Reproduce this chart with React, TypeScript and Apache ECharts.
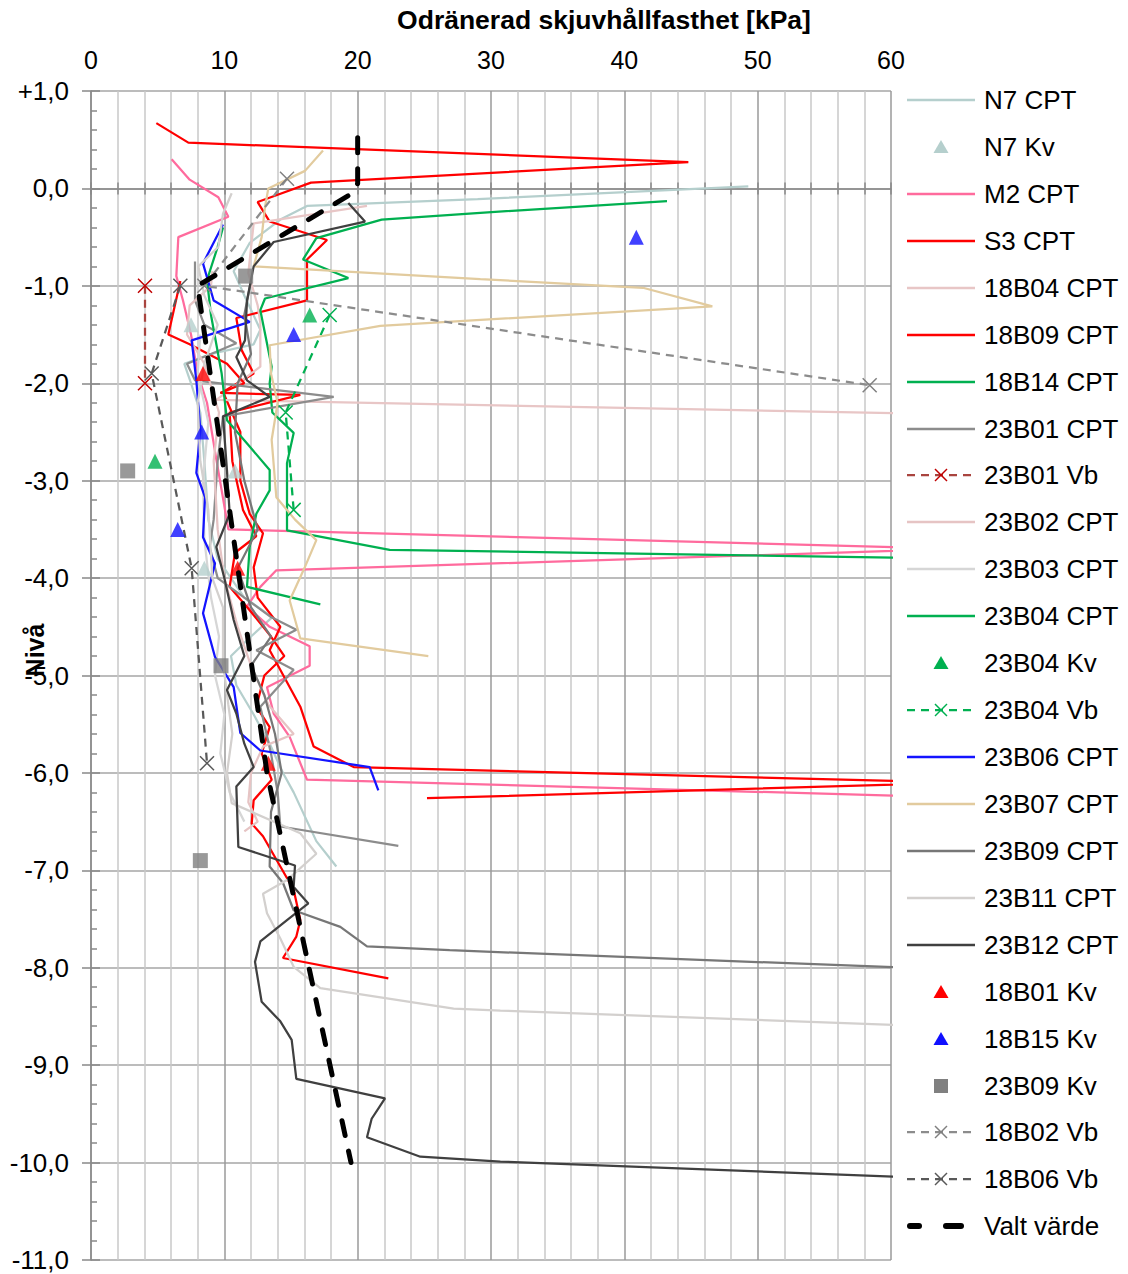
import React, { useEffect, useRef } from 'react';
import * as echarts from 'echarts';

const FONT = 'Liberation Sans, Arial, sans-serif';

const N7_CPT = [[49.3,0.02],[29,-0.11],[16.2,-0.18],[14.2,-0.32],[11.9,-0.56],[10.7,-0.85],[11.5,-1.1],[12.7,-1.45],[12.2,-1.6],[9,-1.7],[7,-1.8],[7.5,-2.0],[8.2,-2.3],[8.5,-2.8],[8.8,-3.4],[9.5,-3.8],[11.5,-4.2],[13.6,-4.4],[12,-4.6],[10.5,-4.8],[10.9,-5.1],[12.2,-5.4],[13.4,-5.7],[14.4,-6.0],[15.2,-6.2],[16.9,-6.7],[18.4,-6.96]];
const N7_KV = [[7.5,-1.4],[10.8,-2.9],[8.5,-3.9]];
const M2_CPT = [[6.05,0.3],[7.4,0.09],[9.55,-0.09],[10.3,-0.29],[6.55,-0.5],[6.4,-0.9],[6.9,-1.15],[7.5,-1.5],[8,-1.9],[8.7,-2.2],[9.3,-2.7],[9.8,-3.1],[10.3,-3.5],[65,-3.7],[13.9,-3.92],[12.7,-4.09],[11.7,-4.29],[13.4,-4.5],[16.4,-4.7],[16.4,-4.9],[13.2,-5.12],[13.7,-5.39],[14.9,-5.63],[16.2,-6.07],[65,-6.25]];
const S3_CPT = [[4.9,0.67],[7.3,0.47],[44.8,0.27],[16.5,0.06],[13.9,-0.07],[12.5,-0.14],[13.4,-0.34],[17.7,-0.53],[16.2,-0.73],[16.2,-1.15],[10.9,-1.33],[11.3,-1.66],[12.2,-1.9],[9.9,-2.09],[11.2,-2.5],[11.2,-3.0],[11.9,-3.34],[12.9,-3.54],[12.2,-3.89],[12.5,-4.2],[14.2,-4.5],[13.4,-4.74],[15.7,-5.32],[16.7,-5.73],[19.7,-5.94],[65,-6.1],[25.2,-6.26]];
const B18_04_CPT = [[20.7,-0.18],[12.2,-0.36],[11.8,-0.87],[12.5,-1.2],[12.7,-1.38],[12.7,-1.83],[9.4,-2.17],[65,-2.32]];
const B18_09_CPT = [[6.7,-0.95],[5.8,-1.5],[7.4,-1.6],[10.2,-1.8],[11.5,-2.0],[9.7,-2.1],[15.7,-2.12],[10.4,-2.3],[10.6,-2.8],[11.4,-3.3],[12.4,-3.57],[10.8,-3.74],[10.4,-4.09],[11.9,-4.33],[13.5,-4.6],[14.5,-4.8],[13,-5.0],[12.4,-5.32],[13.4,-5.53],[12.8,-5.8],[13.55,-6.07],[12.2,-6.28],[12.05,-6.52],[12.9,-6.65],[14.2,-6.96],[15.2,-7.2],[15.7,-7.51],[15.4,-7.68],[14.4,-7.9],[22.3,-8.11]];
const B18_14_CPT = [[43.2,-0.13],[29.2,-0.25],[21.8,-0.32],[16.9,-0.51],[15.9,-0.73],[19.3,-0.92],[13.05,-1.13],[12.7,-1.25],[13.55,-1.83],[13.4,-2.0],[13.6,-2.3],[15.2,-2.51],[14.7,-2.82],[14.7,-3.51],[22.4,-3.71],[65,-3.8]];
const B23_01_CPT = [[7.8,-0.75],[7.8,-1.15],[8.5,-1.4],[10.9,-1.59],[9.0,-1.7],[7.2,-1.8],[7.8,-1.97],[18.2,-2.14],[9.9,-2.34],[9.5,-2.8],[9.2,-3.4],[8.9,-3.68],[9.5,-4.0],[11.5,-4.2],[13.5,-4.4],[15.4,-4.53],[12.4,-4.74],[15.2,-4.94],[12.7,-5.32],[13.5,-5.8],[14.0,-6.2],[14.2,-6.55],[23.05,-6.75]];
const B23_01_VB = [[4.05,-1.0],[4.05,-2.0]];
const B23_02_CPT = [[9.1,-0.85],[9.0,-1.0],[7.4,-1.2],[7.2,-1.5],[8.5,-1.8],[9.6,-2.3],[9.2,-2.8],[9.5,-3.5],[10.0,-4.0],[11.0,-4.5],[12.0,-4.9],[13.3,-5.3],[15.2,-5.6],[12.9,-5.73],[12.0,-6.0],[11.8,-6.3],[12.5,-6.5],[11.5,-6.6]];
const B23_03_CPT = [[8.2,-1.5],[8.0,-1.9],[8.8,-2.4],[8.4,-3.0],[8.5,-3.6],[9.0,-4.2],[9.6,-4.6],[9.3,-5.0],[10.0,-5.4],[9.7,-5.8],[10.4,-6.2],[11.5,-6.5]];
const B23_04_CPT = [[9.9,-0.4],[9.5,-0.6],[8.7,-0.94],[9.0,-1.3],[9.8,-1.9],[10.2,-2.38],[11.9,-2.65],[13.4,-2.89],[13.4,-3.1],[12.4,-3.34],[11.9,-3.68],[11.7,-4.09],[17.2,-4.27]];
const B23_04_KV = [[16.4,-1.3],[4.8,-2.8]];
const B23_04_VB = [[17.9,-1.3],[14.6,-2.3],[15.2,-3.3]];
const B23_06_CPT = [[9.9,-0.37],[8.4,-0.77],[9.2,-1.15],[11.9,-1.37],[7.55,-1.56],[7.9,-1.97],[8.2,-2.48],[7.9,-2.92],[8.55,-3.17],[8.4,-3.58],[9.3,-3.85],[8.4,-4.36],[9.3,-4.81],[10.7,-5.12],[11.2,-5.59],[12.7,-5.77],[20.9,-5.94],[21.55,-6.18]];
const B23_07_CPT = [[17.4,0.39],[16.05,0.18],[13.3,0.0],[13.05,-0.19],[12.8,-0.5],[12.2,-0.8],[29.2,-0.93],[41.4,-1.02],[46.6,-1.21],[21.7,-1.41],[13.4,-1.61],[13.5,-1.9],[14.0,-2.2],[13.55,-2.58],[13.9,-3.17],[15.3,-3.4],[16.9,-3.61],[16.0,-3.9],[14.9,-4.23],[15.7,-4.62],[25.3,-4.8]];
const B23_09_CPT = [[12.0,-0.95],[11.5,-1.3],[12.0,-1.7],[11.0,-2.0],[10.8,-2.5],[11.5,-3.0],[12.5,-3.5],[11.0,-3.9],[12.0,-4.3],[13.5,-4.6],[12.0,-4.9],[13.0,-5.2],[13.8,-5.6],[14.3,-6.0],[13.5,-6.4],[13.4,-6.96],[14.4,-7.13],[15.2,-7.41],[18.7,-7.58],[20.7,-7.78],[26.9,-7.82],[65,-8.02]];
const B23_11_CPT = [[10.55,-0.05],[9.9,-0.26],[9.55,-0.6],[8.05,-0.8],[8.5,-1.1],[9.5,-1.4],[8.5,-1.8],[8.0,-2.2],[8.2,-2.8],[8.8,-3.3],[9.1,-4.0],[9.9,-4.3],[9.9,-4.87],[10.3,-5.3],[10.6,-5.6],[10.2,-6.0],[10.55,-6.31],[15.7,-6.62],[16.9,-6.83],[14.7,-7.1],[12.9,-7.24],[13.2,-7.44],[14.2,-7.7],[15.2,-7.99],[17.2,-8.21],[27.2,-8.42],[30.7,-8.44],[65,-8.61]];
const B23_12_CPT = [[19.3,-0.15],[20.55,-0.34],[13.7,-0.55],[12.2,-0.8],[11.7,-1.15],[11.55,-1.56],[10.9,-1.73],[11.7,-1.97],[13.4,-2.14],[9.9,-2.34],[10.2,-2.9],[10.4,-3.34],[9.4,-3.68],[10.0,-4.0],[10.7,-4.43],[11.5,-4.8],[10.2,-5.15],[10.9,-5.39],[11.5,-5.7],[12.2,-5.94],[10.9,-6.14],[11.05,-6.76],[15.3,-6.95],[15.2,-7.17],[16.3,-7.34],[14.7,-7.51],[12.7,-7.73],[12.3,-7.94],[12.8,-8.35],[14.2,-8.55],[15.05,-8.74],[15.4,-9.14],[22.05,-9.34],[21.05,-9.55],[20.7,-9.74],[24.7,-9.94],[30.7,-9.99],[65,-10.17]];
const B18_01_KV = [[8.4,-1.9],[11.0,-3.9],[13.3,-5.9]];
const B18_15_KV = [[40.9,-0.5],[15.2,-1.5],[8.3,-2.5],[6.5,-3.5]];
const B23_09_KV = [[11.6,-0.9],[2.75,-2.9],[9.75,-4.9],[8.2,-6.9]];
const B18_02_VB = [[14.7,0.1],[8.5,-1.0],[58.4,-2.02]];
const B18_06_VB = [[6.7,-1.0],[4.55,-1.9],[7.55,-3.9],[8.7,-5.9]];
const VALT = [[20,0.52],[20,0.05],[19.6,-0.05],[8,-1.0],[13.2,-6.0],[19.5,-10.0]];

const X_TICKS_MAJOR = [0, 10, 20, 30, 40, 50, 60];

const CROSS = 'path://M0 0L10 10M10 0L0 10';
const LW = 2.25;

type Kind = 'line' | 'tri' | 'rect' | 'vb' | 'valt';
interface Entry { name: string; kind: Kind; color: string; mark?: string; series: any }

function cpt(name: string, data: number[][], color: string): Entry {
  return { name, kind: 'line', color, series: { name, type: 'line', data, symbol: 'none', showSymbol: false, lineStyle: { color, width: LW }, itemStyle: { color }, clip: true } };
}
function kv(name: string, data: number[][], color: string, symbol = 'triangle'): Entry {
  return { name, kind: symbol === 'rect' ? 'rect' : 'tri', color, series: { name, type: 'scatter', data, symbol, symbolSize: 15, itemStyle: { color }, z: 4 } };
}
function vb(name: string, data: number[][], color: string, mark: string): Entry {
  return {
    name, kind: 'vb', color, mark,
    series: {
      name, type: 'line', data, symbol: CROSS, symbolSize: 14, showSymbol: true,
      lineStyle: { color, width: 2.25, type: [8, 6] },
      itemStyle: { color: mark, borderColor: mark, borderWidth: 1.5 }, clip: true,
    },
  };
}

const fmtY = (v: number) => {
  const s = Math.abs(v) < 1e-9 ? '0,0' : v.toFixed(1).replace('.', ',');
  return v > 0.0001 ? '+' + s : s;
};

function legendGraphics(entries: Entry[]) {
  const out: any[] = [];
  const x0 = 907, x1 = 975, cx = 941;
  entries.forEach((e, i) => {
    const y = Math.round(100 + i * 46.93);
    if (e.kind === 'line') {
      out.push({ type: 'line', shape: { x1: x0, y1: y, x2: x1, y2: y }, style: { stroke: e.color, lineWidth: 2.5 } });
    } else if (e.kind === 'tri') {
      out.push({ type: 'polygon', shape: { points: [[cx, y - 7], [cx + 7.5, y + 6], [cx - 7.5, y + 6]] }, style: { fill: e.color } });
    } else if (e.kind === 'rect') {
      out.push({ type: 'rect', shape: { x: cx - 7, y: y - 7, width: 14, height: 14 }, style: { fill: e.color } });
    } else if (e.kind === 'vb') {
      out.push({ type: 'line', shape: { x1: x0, y1: y, x2: x1, y2: y }, style: { stroke: e.color, lineWidth: 2.25, lineDash: [8, 6] } });
      out.push({ type: 'line', shape: { x1: cx - 6, y1: y - 6, x2: cx + 6, y2: y + 6 }, style: { stroke: e.mark, lineWidth: 1.5 } });
      out.push({ type: 'line', shape: { x1: cx + 6, y1: y - 6, x2: cx - 6, y2: y + 6 }, style: { stroke: e.mark, lineWidth: 1.5 } });
    } else {
      out.push({ type: 'line', shape: { x1: 910, y1: y, x2: 919, y2: y }, style: { stroke: '#000', lineWidth: 6, lineCap: 'round' } });
      out.push({ type: 'line', shape: { x1: 946, y1: y, x2: 961, y2: y }, style: { stroke: '#000', lineWidth: 6, lineCap: 'round' } });
    }
    out.push({ type: 'text', x: 984, y, style: { text: e.name, font: `26px ${FONT}`, fill: '#000', align: 'left', verticalAlign: 'middle' } });
  });
  return out;
}

export default function App() {
  const ref = useRef<HTMLDivElement>(null);
  useEffect(() => {
    const chart = echarts.init(ref.current!, null, { renderer: 'svg' });
    const entries: Entry[] = [
      cpt('N7 CPT', N7_CPT, '#b5cfcd'),
      kv('N7 Kv', N7_KV, '#b5cfcd'),
      cpt('M2 CPT', M2_CPT, '#ff6b9d'),
      cpt('S3 CPT', S3_CPT, '#ff0000'),
      cpt('18B04 CPT', B18_04_CPT, '#e8c6c6'),
      cpt('18B09 CPT', B18_09_CPT, '#ff0000'),
      cpt('18B14 CPT', B18_14_CPT, '#00b050'),
      cpt('23B01 CPT', B23_01_CPT, '#8c8c8c'),
      vb('23B01 Vb', B23_01_VB, '#a9443f', '#c00000'),
      cpt('23B02 CPT', B23_02_CPT, '#e6c4c4'),
      cpt('23B03 CPT', B23_03_CPT, '#d6d6d6'),
      cpt('23B04 CPT', B23_04_CPT, '#00b050'),
      kv('23B04 Kv', B23_04_KV, '#00b050'),
      vb('23B04 Vb', B23_04_VB, '#00b050', '#00b050'),
      cpt('23B06 CPT', B23_06_CPT, '#1414ff'),
      cpt('23B07 CPT', B23_07_CPT, '#e2cb9e'),
      cpt('23B09 CPT', B23_09_CPT, '#777777'),
      cpt('23B11 CPT', B23_11_CPT, '#d3d0ce'),
      cpt('23B12 CPT', B23_12_CPT, '#404040'),
      kv('18B01 Kv', B18_01_KV, '#ff0000'),
      kv('18B15 Kv', B18_15_KV, '#1010ff'),
      kv('23B09 Kv', B23_09_KV, '#808080', 'rect'),
      vb('18B02 Vb', B18_02_VB, '#8c8c8c', '#808080'),
      vb('18B06 Vb', B18_06_VB, '#595959', '#595959'),
      {
        name: 'Valt värde', kind: 'valt', color: '#000',
        series: {
          name: 'Valt värde', type: 'line', data: VALT, symbol: 'none', showSymbol: false, z: 6,
          lineStyle: { color: '#000', width: 5, type: [15, 16], cap: 'round' }, itemStyle: { color: '#000' },
        },
      },
    ];
    const minorColor = '#c8c8c8';
    const majorColor = '#9a9a9a';
    chart.setOption({
      animation: false,
      backgroundColor: '#fff',
      textStyle: { fontFamily: FONT },
      grid: { left: 91, right: 237, top: 91, bottom: 14, containLabel: false },
      xAxis: [
        {
          type: 'value', position: 'top', min: 0, max: 60, interval: 2,
          axisLine: { show: true, lineStyle: { color: '#888', width: 1.5 } },
          axisTick: { show: true, length: 6, lineStyle: { color: '#888', width: 1.5 } },
          axisLabel: {
            fontSize: 25, color: '#000', fontFamily: FONT, margin: 19,
            formatter: (v: number) => (X_TICKS_MAJOR.includes(v) ? String(v) : ''),
          },
          splitLine: { show: true, lineStyle: { color: [majorColor, minorColor, minorColor, minorColor, minorColor], width: 1.5 } },
        },
        {
          type: 'value', position: 'top', min: 0, max: 60, interval: 2,
          axisLine: { show: false },
          axisTick: { show: true, inside: true, length: 6, lineStyle: { color: '#888', width: 1.5 } },
          axisLabel: { show: false },
          splitLine: { show: false },
        },
      ],
      yAxis: [
        {
          type: 'value', position: 'left', min: -11, max: 1, interval: 1,
          axisLine: { show: true, lineStyle: { color: '#888', width: 1.5 } },
          axisTick: { show: true, length: 9, lineStyle: { color: '#888', width: 1.5 } },
          axisLabel: { fontSize: 26, color: '#000', fontFamily: FONT, margin: 22, formatter: fmtY },
          splitLine: { show: true, lineStyle: { color: '#a6a6a6', width: 1.5 } },
        },
        {
          type: 'value', position: 'left', min: -11, max: 1, interval: 1,
          axisLine: { show: false },
          axisTick: { show: true, inside: true, length: 9, lineStyle: { color: '#888', width: 1.5 } },
          minorTick: { show: true, splitNumber: 5, length: 6, lineStyle: { color: '#888', width: 1.5 } },
          axisLabel: { show: false },
          splitLine: { show: false },
        },
      ],
      graphic: [
        {
          type: 'text', x: 604, y: 20,
          style: { text: 'Odränerad skjuvhållfasthet [kPa]', font: `bold 26.5px ${FONT}`, fill: '#000', align: 'center', verticalAlign: 'middle' },
        },
        {
          type: 'text', x: 35, y: 650, rotation: Math.PI / 2,
          style: { text: 'Nivå', font: `bold 25px ${FONT}`, fill: '#000', align: 'center', verticalAlign: 'middle' },
        },
        ...legendGraphics(entries),
      ],
      series: entries.map((e) => e.series),
    });
    return () => chart.dispose();
  }, []);
  return <div ref={ref} style={{ position: 'absolute', left: 0, top: 0, width: 1128, height: 1274 }} />;
}
